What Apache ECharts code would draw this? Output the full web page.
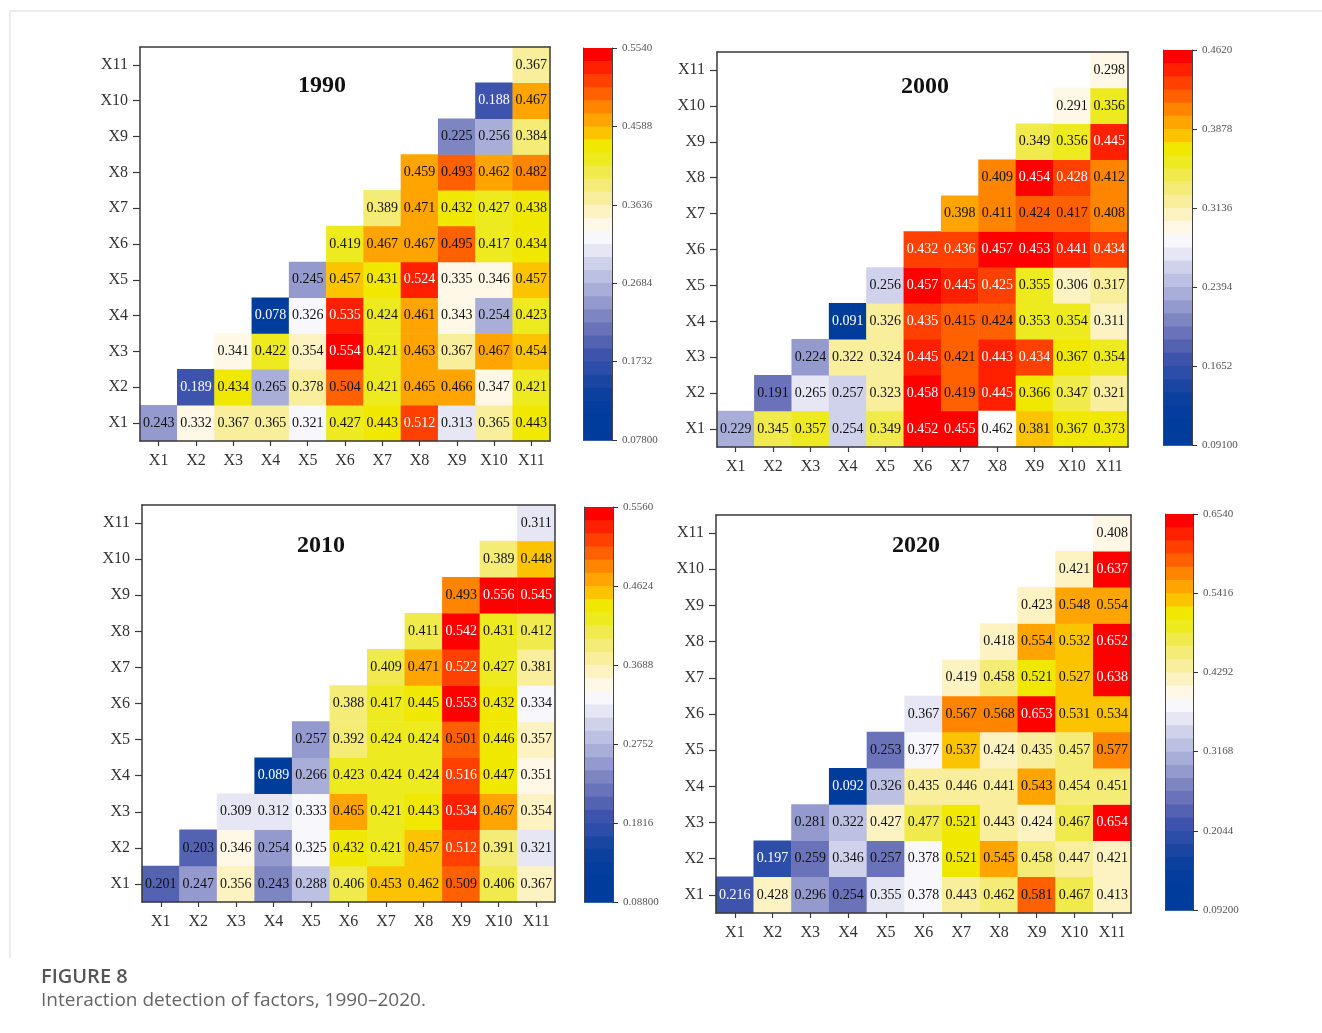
<!DOCTYPE html>
<html>
<head>
<meta charset="utf-8">
<script src="https://cdn.jsdelivr.net/npm/echarts@6/dist/echarts.min.js"></script>
<style>
html,body{margin:0;padding:0;background:#fff;}
#c{width:1322px;height:1033px;}
</style>
</head>
<body>
<div id="c"></div>
<script>
// ---------------- data ----------------
const categories = ['X1','X2','X3','X4','X5','X6','X7','X8','X9','X10','X11'];
const years = ['1990','2000','2010','2020'];

// each row Xi lists the values for columns Xi..X11
const values1990 = [
  [0.243,0.332,0.367,0.365,0.321,0.427,0.443,0.512,0.313,0.365,0.443],
  [0.189,0.434,0.265,0.378,0.504,0.421,0.465,0.466,0.347,0.421],
  [0.341,0.422,0.354,0.554,0.421,0.463,0.367,0.467,0.454],
  [0.078,0.326,0.535,0.424,0.461,0.343,0.254,0.423],
  [0.245,0.457,0.431,0.524,0.335,0.346,0.457],
  [0.419,0.467,0.467,0.495,0.417,0.434],
  [0.389,0.471,0.432,0.427,0.438],
  [0.459,0.493,0.462,0.482],
  [0.225,0.256,0.384],
  [0.188,0.467],
  [0.367]
];
const values2000 = [
  [0.229,0.345,0.357,0.254,0.349,0.452,0.455,0.462,0.381,0.367,0.373],
  [0.191,0.265,0.257,0.323,0.458,0.419,0.445,0.366,0.347,0.321],
  [0.224,0.322,0.324,0.445,0.421,0.443,0.434,0.367,0.354],
  [0.091,0.326,0.435,0.415,0.424,0.353,0.354,0.311],
  [0.256,0.457,0.445,0.425,0.355,0.306,0.317],
  [0.432,0.436,0.457,0.453,0.441,0.434],
  [0.398,0.411,0.424,0.417,0.408],
  [0.409,0.454,0.428,0.412],
  [0.349,0.356,0.445],
  [0.291,0.356],
  [0.298]
];
const values2010 = [
  [0.201,0.247,0.356,0.243,0.288,0.406,0.453,0.462,0.509,0.406,0.367],
  [0.203,0.346,0.254,0.325,0.432,0.421,0.457,0.512,0.391,0.321],
  [0.309,0.312,0.333,0.465,0.421,0.443,0.534,0.467,0.354],
  [0.089,0.266,0.423,0.424,0.424,0.516,0.447,0.351],
  [0.257,0.392,0.424,0.424,0.501,0.446,0.357],
  [0.388,0.417,0.445,0.553,0.432,0.334],
  [0.409,0.471,0.522,0.427,0.381],
  [0.411,0.542,0.431,0.412],
  [0.493,0.556,0.545],
  [0.389,0.448],
  [0.311]
];
const values2020 = [
  [0.216,0.428,0.296,0.254,0.355,0.378,0.443,0.462,0.581,0.467,0.413],
  [0.197,0.259,0.346,0.257,0.378,0.521,0.545,0.458,0.447,0.421],
  [0.281,0.322,0.427,0.477,0.521,0.443,0.424,0.467,0.654],
  [0.092,0.326,0.435,0.446,0.441,0.543,0.454,0.451],
  [0.253,0.377,0.537,0.424,0.435,0.457,0.577],
  [0.367,0.567,0.568,0.653,0.531,0.534],
  [0.419,0.458,0.521,0.527,0.638],
  [0.418,0.554,0.532,0.652],
  [0.423,0.548,0.554],
  [0.421,0.637],
  [0.408]
];

const ticks1990 = ['0.07800','0.1732','0.2684','0.3636','0.4588','0.5540'];
const ticks2000 = ['0.09100','0.1652','0.2394','0.3136','0.3878','0.4620'];
const ticks2010 = ['0.08800','0.1816','0.2752','0.3688','0.4624','0.5560'];
const ticks2020 = ['0.09200','0.2044','0.3168','0.4292','0.5416','0.6540'];

// cells whose fill in the original figure does not follow the colour scale
const cellColourOverrides = [{year:'2000', row:'X1', col:'X8', color:'#ffffff'}];

// ---------------- style / layout ----------------
const palette = [
  '#003c9c','#003c9c','#043d9d','#0c409f','#1a46a2','#2c4ea8',
  '#3e54ac','#5462b2','#6a72ba','#7e86c2','#949ace','#a8aed8',
  '#bcc0e2','#d0d2ec','#e6e6f4','#f8f8fc','#fff8e6','#fcf2c2',
  '#f8ee9c','#f4ec76','#f0ea4c','#eeea20','#f0e800','#fcc400',
  '#ffa400','#ff8400','#ff6000','#ff4000','#ff2000','#ff0000'
];
const STEPS = palette.length;
const serif = '"Liberation Serif","Times New Roman",serif';
const layouts = [
  {grid:[140,47,410,394], bar:[583,48,29,392], title:[322,86]},
  {grid:[717,52,411,395], bar:[1163,50,29,395], title:[925,87]},
  {grid:[142,505,413,397], bar:[584,507,29,395], title:[321,546]},
  {grid:[716,515,415,398], bar:[1165,514,28,396], title:[916,546]}
];
const panelValues = [values1990, values2000, values2010, values2020];
const panelTicks = [ticks1990, ticks2000, ticks2010, ticks2020];

const lineCol = '#3a3a3a';
const option = {
  backgroundColor:'#ffffff',
  animation:false,
  grid:[], xAxis:[], yAxis:[], series:[], visualMap:[], graphic:[]
};

panelValues.forEach((vals, k) => {
  const L = layouts[k];
  const ticks = panelTicks[k];
  const year = years[k];
  const all = vals.flat();
  const vmin = Math.min(...all), vmax = Math.max(...all);

  // ---- heatmap grid ----
  const gi = option.grid.length;
  option.grid.push({left:L.grid[0], top:L.grid[1], width:L.grid[2], height:L.grid[3], outerBoundsMode:'none'});
  const xi = option.xAxis.length;
  option.xAxis.push({
    gridIndex:gi, type:'category', data:categories, position:'bottom', z:5,
    axisLine:{show:true, lineStyle:{color:lineCol, width:1.5}},
    axisTick:{show:true, alignWithLabel:true, length:5, lineStyle:{color:lineCol, width:1.2}},
    axisLabel:{show:true, interval:0, fontFamily:serif, fontSize:16, color:'#333', margin:12},
    splitLine:{show:false}, splitArea:{show:false}
  });
  option.xAxis.push({
    gridIndex:gi, type:'category', data:categories, position:'top', z:5,
    axisLine:{show:true, lineStyle:{color:lineCol, width:1.5}},
    axisTick:{show:false}, axisLabel:{show:false}, splitLine:{show:false}
  });
  const yi = option.yAxis.length;
  option.yAxis.push({
    gridIndex:gi, type:'category', data:categories, position:'left', z:5,
    axisLine:{show:true, lineStyle:{color:lineCol, width:1.5}},
    axisTick:{show:true, alignWithLabel:true, length:7, lineStyle:{color:lineCol, width:1.2}},
    axisLabel:{show:true, interval:0, fontFamily:serif, fontSize:16, color:'#333', margin:12},
    splitLine:{show:false}, splitArea:{show:false}
  });
  option.yAxis.push({
    gridIndex:gi, type:'category', data:categories, position:'right', z:5,
    axisLine:{show:true, lineStyle:{color:lineCol, width:1.5}},
    axisTick:{show:false}, axisLabel:{show:false}, splitLine:{show:false}
  });

  const mainData = [], extraData = [];
  vals.forEach((row, r) => row.forEach((v, j) => {
    const c = r + j;
    let idx = Math.floor((v - vmin) / (vmax - vmin) * STEPS);
    if (idx >= STEPS) idx = STEPS - 1;
    const ov = cellColourOverrides.find(o => o.year === year && o.row === categories[r] && o.col === categories[c]);
    if (ov) {
      extraData.push({value:[c, r, v], label:{color:'#111'}, itemStyle:{color:ov.color}});
    } else {
      const white = idx >= 27 || idx <= 6;
      mainData.push({value:[c, r, v], label:{color: white ? '#ffffff' : '#111111'}});
    }
  }));

  const labelCfg = {
    show:true, fontFamily:serif, fontSize:14,
    formatter: p => p.value[2].toFixed(3)
  };
  const si = option.series.length;
  option.series.push({
    type:'heatmap', name:year, xAxisIndex:xi, yAxisIndex:yi,
    data:mainData, label:labelCfg, itemStyle:{borderWidth:0},
    emphasis:{disabled:true}, z:2
  });
  if (extraData.length) {
    const ei = option.series.length;
    option.series.push({
      type:'heatmap', name:year + '-fill', xAxisIndex:xi, yAxisIndex:yi,
      data:extraData, label:labelCfg, itemStyle:{borderWidth:0},
      emphasis:{disabled:true}, z:2
    });
    option.visualMap.push({
      type:'continuous', show:false, seriesIndex:ei, min:vmin, max:vmax,
      dimension:2, inRange:{color:[extraData[0].itemStyle.color, extraData[0].itemStyle.color]}
    });
  }

  // ---- colour bar (visualMap) ----
  const overlap = 0.8;
  option.visualMap.push({
    type:'piecewise', seriesIndex:si, dimension:2,
    min:vmin, max:vmax, splitNumber:STEPS,
    orient:'vertical', left:L.bar[0], top:L.bar[1],
    itemWidth:L.bar[2], itemHeight:L.bar[3] / STEPS + overlap, itemGap:-overlap,
    itemSymbol:'rect', showLabel:false, padding:0,
    hoverLink:false, selectedMode:false, z:2,
    inRange:{color:palette}
  });

  // axis grid for the colour-bar ticks
  const cg = option.grid.length;
  option.grid.push({left:L.bar[0], top:L.bar[1], width:L.bar[2], height:L.bar[3], outerBoundsMode:'none'});
  option.xAxis.push({gridIndex:cg, type:'value', show:false, min:0, max:1});
  option.yAxis.push({
    gridIndex:cg, type:'value', min:0, max:5, interval:1, position:'left', z:6,
    axisLine:{show:true, lineStyle:{color:'#444', width:1}},
    axisTick:{show:false}, axisLabel:{show:false}, splitLine:{show:false}
  });
  option.yAxis.push({
    gridIndex:cg, type:'value', min:0, max:5, interval:1, position:'right', z:6,
    axisLine:{show:true, lineStyle:{color:'#444', width:1}},
    axisTick:{show:true, length:5, lineStyle:{color:'#333', width:1}},
    axisLabel:{show:true, margin:10, fontFamily:serif, fontSize:11, color:'#555',
      formatter: v => ticks[Math.round(v)]},
    splitLine:{show:false}
  });

  // ---- panel year title ----
  option.graphic.push({
    type:'text', x:L.title[0], y:L.title[1], z:10,
    style:{text:year, font:'bold 24px ' + serif, fill:'#111', align:'center', verticalAlign:'middle'}
  });
});

// caption & frame
option.graphic.push(
  {type:'polyline', z:1, shape:{points:[[10,958],[10,11],[1322,11]]}, style:{stroke:'#d9d9d9', lineWidth:1, fill:null}},
  {type:'text', x:41, y:977, style:{text:'FIGURE 8', font:'600 20px "Open Sans", sans-serif', fill:'#555', verticalAlign:'middle'}},
  {type:'text', x:41, y:1001, style:{text:'Interaction detection of factors, 1990\u20132020.', font:'400 19px "Open Sans", sans-serif', fill:'#666', verticalAlign:'middle'}}
);

const chart = echarts.init(document.getElementById('c'), null, {renderer:'canvas'});
chart.setOption(option);
</script>
</body>
</html>
